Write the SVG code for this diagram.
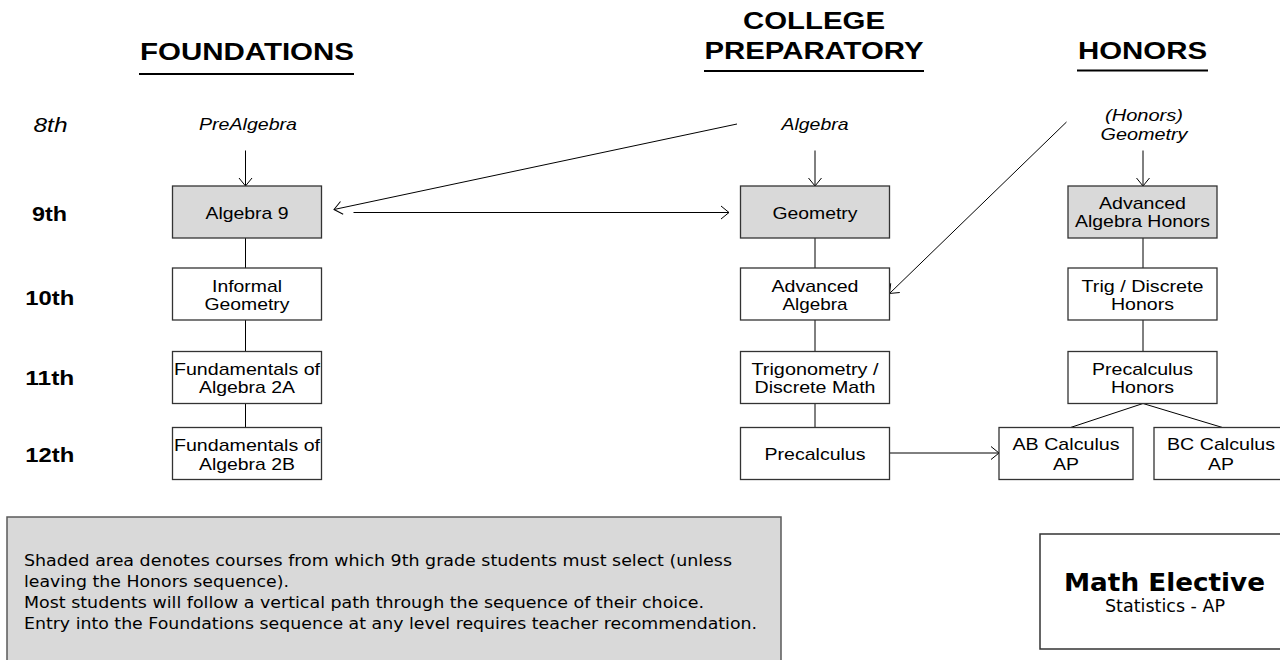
<svg xmlns="http://www.w3.org/2000/svg" width="1280" height="660" viewBox="0 0 1280 660">
<style>
  .bx { fill: #ffffff; stroke: #333333; stroke-width: 1.3; }
  .sh { fill: #d9d9d9; stroke: #333333; stroke-width: 1.3; }
  .t { font-family: 'Liberation Sans', Arial, sans-serif; font-size: 17px; text-anchor: middle; fill: #000; }
  .it { font-family: 'Liberation Sans', Arial, sans-serif; font-size: 17px; font-style: italic; text-anchor: middle; fill: #000; }
  .hdr { font-family: 'Liberation Sans', Arial, sans-serif; font-size: 24px; font-weight: bold; text-anchor: middle; fill: #000; }
  .gr { font-family: 'Liberation Sans', Arial, sans-serif; font-size: 19.5px; font-weight: bold; text-anchor: middle; fill: #000; }
  .gri { font-family: 'Liberation Sans', Arial, sans-serif; font-size: 19.5px; font-style: italic; text-anchor: middle; fill: #000; }
  .note { font-family: 'DejaVu Sans', Verdana, sans-serif; font-size: 16.5px; fill: #000; }
  .ul { stroke: #000; stroke-width: 2; }
  .ln { stroke: #000; stroke-width: 1; fill: none; }
  .ar { stroke: #000; stroke-width: 1; fill: none; marker-end: url(#v); }
</style>
<defs>
  <marker id="v" markerUnits="userSpaceOnUse" markerWidth="12" markerHeight="16" refX="9" refY="7" orient="auto" overflow="visible">
    <path d="M1,0.5 L9,7 L1,13.5" fill="none" stroke="#000" stroke-width="1"/>
  </marker>
</defs>
<rect width="1280" height="660" fill="#ffffff"/>

<g id="headers">
  <text class="hdr" x="247" y="60" textLength="214" lengthAdjust="spacingAndGlyphs">FOUNDATIONS</text>
  <line class="ul" x1="139" y1="74" x2="354" y2="74"/>
  <text class="hdr" x="814" y="29" textLength="142" lengthAdjust="spacingAndGlyphs">COLLEGE</text>
  <text class="hdr" x="814" y="59" textLength="219" lengthAdjust="spacingAndGlyphs">PREPARATORY</text>
  <line class="ul" x1="704" y1="71" x2="924" y2="71"/>
  <text class="hdr" x="1142.5" y="59" textLength="129" lengthAdjust="spacingAndGlyphs">HONORS</text>
  <line class="ul" x1="1077" y1="70.5" x2="1208" y2="70.5"/>
</g>

<g id="grades">
  <text class="gri" x="50.5" y="132" textLength="34" lengthAdjust="spacingAndGlyphs">8th</text>
  <text class="gr" x="49.5" y="221" textLength="35" lengthAdjust="spacingAndGlyphs">9th</text>
  <text class="gr" x="49.8" y="305" textLength="49" lengthAdjust="spacingAndGlyphs">10th</text>
  <text class="gr" x="49.8" y="385" textLength="49" lengthAdjust="spacingAndGlyphs">11th</text>
  <text class="gr" x="49.8" y="462" textLength="49" lengthAdjust="spacingAndGlyphs">12th</text>
</g>

<g id="connectors">
  <line class="ar" x1="245.5" y1="150.5" x2="245.5" y2="186"/>
  <line class="ar" x1="815" y1="150.5" x2="815" y2="186"/>
  <line class="ar" x1="1143" y1="150.5" x2="1143" y2="186"/>
  <line class="ar" x1="737" y1="124" x2="334" y2="209.5"/>
  <line class="ar" x1="353.5" y1="212.5" x2="729" y2="212.5"/>
  <line class="ar" x1="1066.5" y1="122" x2="889.5" y2="293.5"/>
  <line class="ar" x1="889.5" y1="453" x2="999" y2="453"/>
  <line class="ln" x1="245.5" y1="238" x2="245.5" y2="268"/>
  <line class="ln" x1="245.5" y1="320" x2="245.5" y2="351.5"/>
  <line class="ln" x1="245.5" y1="403.5" x2="245.5" y2="427.5"/>
  <line class="ln" x1="815" y1="238" x2="815" y2="268"/>
  <line class="ln" x1="815" y1="320" x2="815" y2="351.5"/>
  <line class="ln" x1="815" y1="403.5" x2="815" y2="427.5"/>
  <line class="ln" x1="1143" y1="238" x2="1143" y2="268"/>
  <line class="ln" x1="1143" y1="320" x2="1143" y2="351.5"/>
  <line class="ln" x1="1143" y1="403.5" x2="1070.5" y2="427.5"/>
  <line class="ln" x1="1143" y1="403.5" x2="1222.5" y2="427.5"/>
</g>

<g id="prealgebra"><text class="it" x="248" y="130" textLength="98" lengthAdjust="spacingAndGlyphs">PreAlgebra</text></g>
<g id="algebra8"><text class="it" x="815" y="130" textLength="67" lengthAdjust="spacingAndGlyphs">Algebra</text></g>
<g id="honors-geometry8">
  <text class="it" x="1144" y="120.5" textLength="78" lengthAdjust="spacingAndGlyphs">(Honors)</text>
  <text class="it" x="1144" y="139.5" textLength="87" lengthAdjust="spacingAndGlyphs">Geometry</text>
</g>

<g id="algebra9">
  <rect class="sh" x="172.5" y="186" width="149" height="52"/>
  <text class="t" x="247" y="218.5" textLength="83" lengthAdjust="spacingAndGlyphs">Algebra 9</text>
</g>
<g id="informal-geometry">
  <rect class="bx" x="172.5" y="268" width="149" height="52"/>
  <text class="t" x="247" y="291.5" textLength="70" lengthAdjust="spacingAndGlyphs">Informal</text>
  <text class="t" x="247" y="310" textLength="85" lengthAdjust="spacingAndGlyphs">Geometry</text>
</g>
<g id="fund-2a">
  <rect class="bx" x="172.5" y="351.5" width="149" height="52"/>
  <text class="t" x="247" y="374.5" textLength="146" lengthAdjust="spacingAndGlyphs">Fundamentals of</text>
  <text class="t" x="247" y="393" textLength="96" lengthAdjust="spacingAndGlyphs">Algebra 2A</text>
</g>
<g id="fund-2b">
  <rect class="bx" x="172.5" y="427.5" width="149" height="52"/>
  <text class="t" x="247" y="451" textLength="146" lengthAdjust="spacingAndGlyphs">Fundamentals of</text>
  <text class="t" x="247" y="470" textLength="96" lengthAdjust="spacingAndGlyphs">Algebra 2B</text>
</g>

<g id="geometry">
  <rect class="sh" x="740.5" y="186" width="149" height="52"/>
  <text class="t" x="815" y="218.5" textLength="85" lengthAdjust="spacingAndGlyphs">Geometry</text>
</g>
<g id="advanced-algebra">
  <rect class="bx" x="740.5" y="268" width="149" height="52"/>
  <text class="t" x="815" y="291.5" textLength="87" lengthAdjust="spacingAndGlyphs">Advanced</text>
  <text class="t" x="815" y="310" textLength="65" lengthAdjust="spacingAndGlyphs">Algebra</text>
</g>
<g id="trig-discrete">
  <rect class="bx" x="740.5" y="351.5" width="149" height="52"/>
  <text class="t" x="815" y="374.5" textLength="127" lengthAdjust="spacingAndGlyphs">Trigonometry /</text>
  <text class="t" x="815" y="393" textLength="121" lengthAdjust="spacingAndGlyphs">Discrete Math</text>
</g>
<g id="precalculus">
  <rect class="bx" x="740.5" y="427.5" width="149" height="52"/>
  <text class="t" x="815" y="459.5" textLength="101" lengthAdjust="spacingAndGlyphs">Precalculus</text>
</g>

<g id="adv-algebra-honors">
  <rect class="sh" x="1068" y="186" width="149" height="52"/>
  <text class="t" x="1142.5" y="208.5" textLength="87" lengthAdjust="spacingAndGlyphs">Advanced</text>
  <text class="t" x="1142.5" y="227" textLength="135" lengthAdjust="spacingAndGlyphs">Algebra Honors</text>
</g>
<g id="trig-discrete-honors">
  <rect class="bx" x="1068" y="268" width="149" height="52"/>
  <text class="t" x="1142.5" y="291.5" textLength="122" lengthAdjust="spacingAndGlyphs">Trig / Discrete</text>
  <text class="t" x="1142.5" y="310" textLength="63" lengthAdjust="spacingAndGlyphs">Honors</text>
</g>
<g id="precalculus-honors">
  <rect class="bx" x="1068" y="351.5" width="149" height="52"/>
  <text class="t" x="1142.5" y="374.5" textLength="101" lengthAdjust="spacingAndGlyphs">Precalculus</text>
  <text class="t" x="1142.5" y="393" textLength="63" lengthAdjust="spacingAndGlyphs">Honors</text>
</g>
<g id="ab-calculus">
  <rect class="bx" x="999" y="427.5" width="134" height="52"/>
  <text class="t" x="1066" y="449.5" textLength="107" lengthAdjust="spacingAndGlyphs">AB Calculus</text>
  <text class="t" x="1066" y="469.5" textLength="26" lengthAdjust="spacingAndGlyphs">AP</text>
</g>
<g id="bc-calculus">
  <rect class="bx" x="1154" y="427.5" width="134" height="52"/>
  <text class="t" x="1221" y="449.5" textLength="108" lengthAdjust="spacingAndGlyphs">BC Calculus</text>
  <text class="t" x="1221" y="469.5" textLength="26" lengthAdjust="spacingAndGlyphs">AP</text>
</g>

<g id="note">
  <rect x="7" y="517" width="774" height="170" fill="#d9d9d9" stroke="#595959" stroke-width="1.5"/>
  <text class="note" x="24" y="566" textLength="708" lengthAdjust="spacingAndGlyphs">Shaded area denotes courses from which 9th grade students must select (unless</text>
  <text class="note" x="24" y="587.3" textLength="265" lengthAdjust="spacingAndGlyphs">leaving the Honors sequence).</text>
  <text class="note" x="24" y="608.3" textLength="680" lengthAdjust="spacingAndGlyphs">Most students will follow a vertical path through the sequence of their choice.</text>
  <text class="note" x="24" y="629.3" textLength="733" lengthAdjust="spacingAndGlyphs">Entry into the Foundations sequence at any level requires teacher recommendation.</text>
</g>

<g id="math-elective">
  <rect x="1040" y="534" width="250" height="115" fill="#ffffff" stroke="#333333" stroke-width="1.5"/>
  <text x="1164.5" y="591" font-family="'DejaVu Sans', Verdana, sans-serif" font-size="24" font-weight="bold" text-anchor="middle" textLength="201" lengthAdjust="spacingAndGlyphs">Math Elective</text>
  <text x="1165" y="611.7" font-family="'DejaVu Sans', Verdana, sans-serif" font-size="17" text-anchor="middle" textLength="120" lengthAdjust="spacingAndGlyphs">Statistics - AP</text>
</g>
</svg>
